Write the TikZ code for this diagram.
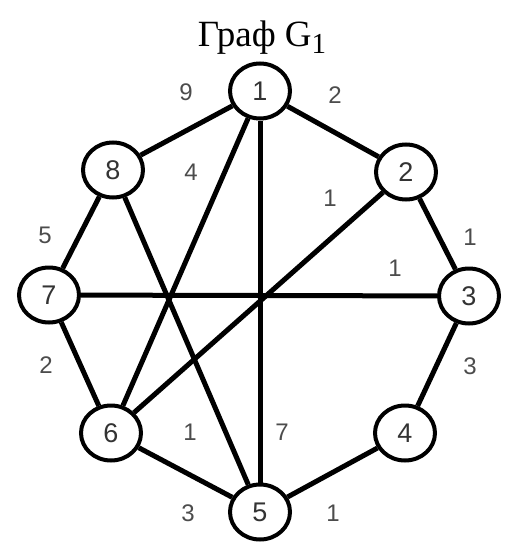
\documentclass[tikz,border=0pt]{standalone}
\usepackage{fontspec}
\setmainfont{Liberation Serif}
\newfontfamily\digitfont{Liberation Sans}
\usetikzlibrary{shapes.geometric}
\tikzset{
  vtx/.style={ellipse, draw=black, line width=4pt, fill=white, minimum width=60pt, minimum height=55pt, inner sep=0pt, font=\digitfont\fontsize{27}{27}\selectfont, text=black!80},
  edg/.style={line width=5pt, black},
  wlab/.style={font=\digitfont\fontsize{24}{24}\selectfont, text=black!70, inner sep=0pt}
}
\begin{document}
\begin{tikzpicture}[x=1pt,y=-1pt]
\useasboundingbox (0,0) rectangle (504,543);
\node[anchor=base, inner sep=0pt, font=\fontsize{37}{40}\selectfont] (title) at (262,47) {Граф G\raisebox{-6pt}{\fontsize{29}{29}\selectfont 1}};
% vertices
\node[vtx] (v1) at (260,91) {1};
\node[vtx] (v2) at (406,172) {2};
\node[vtx] (v3) at (469,296) {3};
\node[vtx] (v4) at (405,433) {4};
\node[vtx] (v5) at (260,512) {5};
\node[vtx] (v6) at (111,433) {6};
\node[vtx] (v7) at (49,295) {7};
\node[vtx] (v8) at (113,170) {8};
% edges
\draw[edg] (v1) -- (v2);
\draw[edg] (v2) -- (v3);
\draw[edg] (v3) -- (v4);
\draw[edg] (v4) -- (v5);
\draw[edg] (v5) -- (v6);
\draw[edg] (v6) -- (v7);
\draw[edg] (v7) -- (v8);
\draw[edg] (v8) -- (v1);
\draw[edg] (v1) -- (v5);
\draw[edg] (v7) -- (v3);
\draw[edg] (v1) -- (v6);
\draw[edg] (v2) -- (v6);
\draw[edg] (v8) -- (v5);
% weights
\node[wlab] (w18) at (186,92) {9};
\node[wlab] (w12) at (335,95) {2};
\node[wlab] (w16) at (191,172) {4};
\node[wlab] (w26) at (330,198) {1};
\node[wlab] (w78) at (45,235) {5};
\node[wlab] (w23) at (470,237) {1};
\node[wlab] (w73) at (395,268) {1};
\node[wlab] (w67) at (46,365) {2};
\node[wlab] (w34) at (470,366) {3};
\node[wlab] (w85) at (190,432) {1};
\node[wlab] (w15) at (282,432) {7};
\node[wlab] (w56) at (188,513) {3};
\node[wlab] (w45) at (333,513) {1};
\end{tikzpicture}
\end{document}
